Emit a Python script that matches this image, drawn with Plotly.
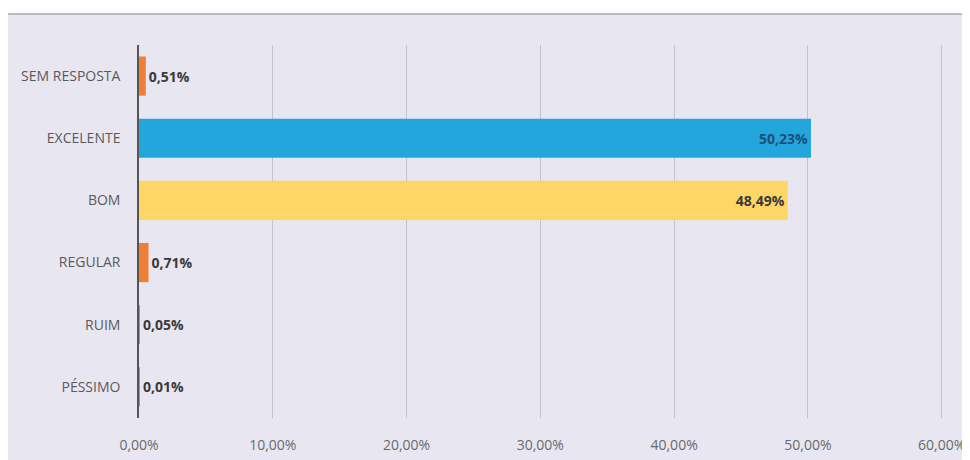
import plotly.graph_objects as go

categories = ["SEM RESPOSTA", "EXCELENTE", "BOM", "REGULAR", "RUIM", "PÉSSIMO"]
values = [0.51, 50.23, 48.49, 0.71, 0.05, 0.01]
value_labels = ["0,51%", "50,23%", "48,49%", "0,71%", "0,05%", "0,01%"]
bar_colors = ["#EF7F35", "#23A6DC", "#FDD665", "#EF7F35", "#EF7F35", "#EF7F35"]
label_positions = ["outside", "inside", "inside", "outside", "outside", "outside"]
label_colors = ["#3a3a3a", "#1d4f7a", "#3a3a3a", "#3a3a3a", "#3a3a3a", "#3a3a3a"]
tick_values = [0, 10, 20, 30, 40, 50, 60]
tick_labels = ["0,00%", "10,00%", "20,00%", "30,00%", "40,00%", "50,00%", "60,00%"]

# page body has an 8px margin; figure is sized/positioned to compensate
W, H = 962, 452
ML, MT, PW, PH = 131, 37, 806, 373
MR, MB = W - ML - PW, H - MT - PH

fig = go.Figure()
fig.add_trace(go.Bar(
    y=categories,
    x=values,
    orientation="h",
    marker=dict(color=bar_colors, line=dict(width=0)),
    width=0.63,
    text=value_labels,
    textposition=label_positions,
    insidetextanchor="end",
    textfont=dict(family="Open Sans", size=14, color=label_colors, weight="bold"),
    outsidetextfont=dict(family="Open Sans", size=14, color=label_colors, weight="bold"),
    insidetextfont=dict(family="Open Sans", size=14, color=label_colors, weight="bold"),
    cliponaxis=False,
    hoverinfo="skip",
))

fig.add_shape(type="rect", xref="paper", yref="paper",
              x0=-ML/PW, x1=(W - ML)/PW, y0=-MB/PH, y1=(MT - 6)/PH + 1,
              fillcolor="#e8e6f0", line=dict(width=0), layer="below")
fig.add_shape(type="line", xref="paper", yref="paper",
              x0=-ML/PW, x1=(W - ML)/PW, y0=(MT - 6)/PH + 1, y1=(MT - 6)/PH + 1,
              line=dict(color="#a9a7b5", width=1.5), layer="below")

fig.update_layout(
    width=W, height=H,
    margin=dict(l=ML, r=MR, t=MT, b=MB),
    paper_bgcolor="#ffffff",
    plot_bgcolor="rgba(0,0,0,0)",
    showlegend=False,
    font=dict(family="Open Sans", color="#555555"),
    xaxis=dict(
        range=[0, 60.25],
        tickvals=tick_values,
        ticktext=tick_labels,
        showgrid=True,
        gridcolor="#c4c3cf",
        gridwidth=1,
        zeroline=False,
        showline=False,
        tickfont=dict(family="Open Sans", size=14, color="#6a6a6a"),
        ticks="",
        ticklabelstandoff=17,
        automargin=False,
        fixedrange=True,
    ),
    yaxis=dict(
        autorange="reversed",
        showgrid=False,
        showline=True,
        linecolor="#555555",
        linewidth=1.5,
        ticks="",
        ticklabelstandoff=14,
        tickfont=dict(family="Open Sans", size=14, color="#5a5a5a"),
        automargin=False,
        fixedrange=True,
    ),
)

fig.write_html("out.html")
